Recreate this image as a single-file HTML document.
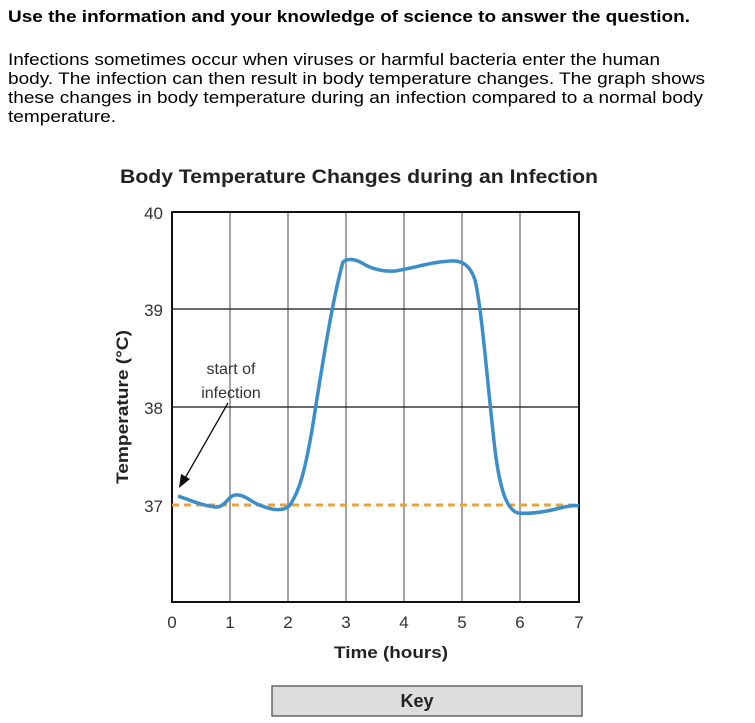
<!DOCTYPE html><html><head><style>body{margin:0;background:#fff;width:755px;height:718px;overflow:hidden;font-family:"Liberation Sans",Arial,sans-serif;}</style></head><body>
<svg width="755" height="718" xmlns="http://www.w3.org/2000/svg" font-family="Liberation Sans, Arial, sans-serif">
<text x="8" y="22" font-size="17" font-weight="bold" fill="#000" textLength="682" lengthAdjust="spacingAndGlyphs">Use the information and your knowledge of science to answer the question.</text>
<g font-size="17" fill="#000">
<text x="8" y="65" textLength="652" lengthAdjust="spacingAndGlyphs">Infections sometimes occur when viruses or harmful bacteria enter the human</text>
<text x="8" y="84" textLength="697" lengthAdjust="spacingAndGlyphs">body. The infection can then result in body temperature changes. The graph shows</text>
<text x="8" y="103" textLength="695" lengthAdjust="spacingAndGlyphs">these changes in body temperature during an infection compared to a normal body</text>
<text x="8" y="122" textLength="108" lengthAdjust="spacingAndGlyphs">temperature.</text>
</g>
<text x="120" y="183" font-size="19" font-weight="bold" fill="#222" textLength="478" lengthAdjust="spacingAndGlyphs">Body Temperature Changes during an Infection</text>
<g stroke="#666" stroke-width="1.2">
<line x1="230" y1="212" x2="230" y2="602"/><line x1="288" y1="212" x2="288" y2="602"/><line x1="346" y1="212" x2="346" y2="602"/><line x1="404" y1="212" x2="404" y2="602"/><line x1="462" y1="212" x2="462" y2="602"/><line x1="520" y1="212" x2="520" y2="602"/>
</g>
<g stroke="#111" stroke-width="1.2"><line x1="172" y1="309" x2="579" y2="309"/><line x1="172" y1="407" x2="579" y2="407"/></g>
<rect x="172" y="212" width="407" height="390" fill="none" stroke="#111" stroke-width="2"/>
<line x1="172" y1="505" x2="579" y2="505" stroke="#e8a23c" stroke-width="3" stroke-dasharray="7,5"/>
<path d="M178,496 C190,500 200,505 215,507 C225,508 228,496 235,495 C245,494 250,502 262,506 C272,510 284,512 290,505 C300,490 305,470 312,430 C320,380 332,300 343,262 C347,258 355,259 362,263 C370,268 380,272 395,271 C415,268 430,262 450,261 C462,260 470,265 475,280 C482,310 487,380 495,450 C500,490 507,510 518,513 C530,514 545,512 560,508 C568,506 575,505 579,506" fill="none" stroke="#3b8ec9" stroke-width="3.5"/>
<g font-size="17" fill="#333" text-anchor="end"><text x="163" y="219">40</text><text x="163" y="316">39</text><text x="163" y="414">38</text><text x="163" y="512">37</text></g>
<g font-size="17" fill="#333" text-anchor="middle"><text x="172" y="628">0</text><text x="230" y="628">1</text><text x="288" y="628">2</text><text x="346" y="628">3</text><text x="404" y="628">4</text><text x="462" y="628">5</text><text x="520" y="628">6</text><text x="579" y="628">7</text></g>
<text x="391" y="658" font-size="17" font-weight="bold" text-anchor="middle" fill="#222" textLength="114" lengthAdjust="spacingAndGlyphs">Time (hours)</text>
<text transform="translate(128,407) rotate(-90)" font-size="17" font-weight="bold" text-anchor="middle" fill="#222" textLength="154" lengthAdjust="spacingAndGlyphs">Temperature (°C)</text>
<text x="231" y="374" font-size="16" text-anchor="middle" fill="#333">start of</text>
<text x="231" y="398" font-size="16" text-anchor="middle" fill="#333">infection</text>
<line x1="228" y1="403" x2="184" y2="480" stroke="#111" stroke-width="1.3"/>
<polygon points="179,488 181,474 190,479" fill="#111"/>
<rect x="272" y="686" width="310" height="30" fill="#ddd" stroke="#666" stroke-width="1.5"/>
<text x="417" y="707" font-size="18" font-weight="bold" text-anchor="middle" fill="#222">Key</text>
</svg></body></html>
